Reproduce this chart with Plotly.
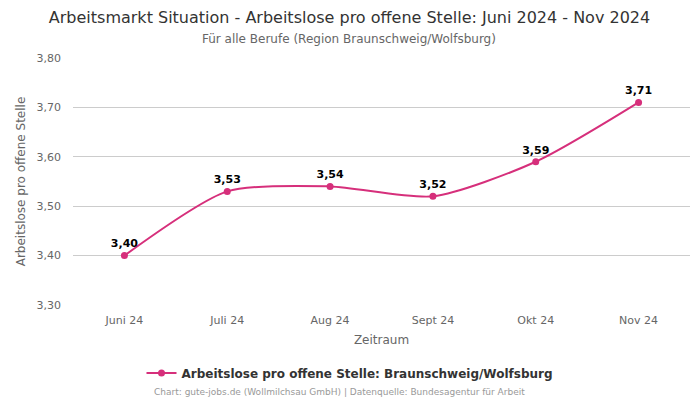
import plotly.graph_objects as go

categories = ["Juni 24", "Juli 24", "Aug 24", "Sept 24", "Okt 24", "Nov 24"]
values = [3.40, 3.53, 3.54, 3.52, 3.59, 3.71]
labels = ["3,40", "3,53", "3,54", "3,52", "3,59", "3,71"]
y_ticks = [3.30, 3.40, 3.50, 3.60, 3.70, 3.80]
y_tick_labels = ["3,30", "3,40", "3,50", "3,60", "3,70", "3,80"]

color = "#d62f7b"
font = "DejaVu Sans"

fig = go.Figure()
fig.add_trace(go.Scatter(
    x=categories, y=values, mode="lines+markers+text",
    line=dict(color=color, width=2, shape="spline", smoothing=0.7),
    marker=dict(color=color, size=7),
    text=labels, textposition="top center",
    texttemplate="<b>%{text}</b>",
    textfont=dict(family=font, size=11, color="#000000"),
    name="Arbeitslose pro offene Stelle: Braunschweig/Wolfsburg",
    cliponaxis=False,
))

fig.update_layout(
    width=700, height=400,
    margin=dict(l=73, r=10, t=58, b=95, autoexpand=False),
    paper_bgcolor="white", plot_bgcolor="white",
    font=dict(family=font, color="#666666", size=11),
    title=dict(
        text="Arbeitsmarkt Situation - Arbeitslose pro offene Stelle: Juni 2024 - Nov 2024",
        x=349.5 / 700, xanchor="center", xref="container", y=1 - 17 / 400, yref="container", yanchor="middle",
        font=dict(family=font, size=16, color="#333333"),
    ),
    showlegend=True,
    legend=dict(
        orientation="h", x=350 / 700, xanchor="center", xref="container",
        y=27 / 400, yref="container", yanchor="middle",
        font=dict(family=font, size=12, color="#333333", weight="bold"),
    ),
    xaxis=dict(
        type="category", range=[-0.5, 5.5], automargin=False,
        showgrid=False, showline=False, ticks="",
        tickfont=dict(family=font, size=11, color="#666666"),
        ticklabelstandoff=7,
        title=dict(text="Zeitraum", font=dict(family=font, size=12, color="#666666"), standoff=9),
    ),
    yaxis=dict(
        range=[3.30, 3.80], tickvals=y_ticks, ticktext=y_tick_labels, automargin=False,
        showgrid=True, gridcolor="#cccccc", gridwidth=1, zeroline=False,
        tickfont=dict(family=font, size=11, color="#666666"),
        title=dict(text="Arbeitslose pro offene Stelle", font=dict(family=font, size=12, color="#666666"), standoff=8),
        ticklabelstandoff=11,
    ),
    annotations=[
        dict(text="Für alle Berufe (Region Braunschweig/Wolfsburg)", xref="paper", yref="paper",
             x=(349 - 73) / 617, xanchor="center", y=1 + 19 / 247, yanchor="middle", showarrow=False,
             font=dict(family=font, size=12, color="#666666")),
        dict(text="Chart: gute-jobs.de (Wollmilchsau GmbH) | Datenquelle: Bundesagentur für Arbeit",
             xref="paper", yref="paper", x=(339 - 73) / 617, xanchor="center", y=-87 / 247, yanchor="middle",
             showarrow=False, font=dict(family=font, size=9, color="#999999")),
    ],
)

fig.write_html("out.html", config={"displayModeBar": False},
               post_script="document.body.style.margin='0';document.body.style.padding='0';")
